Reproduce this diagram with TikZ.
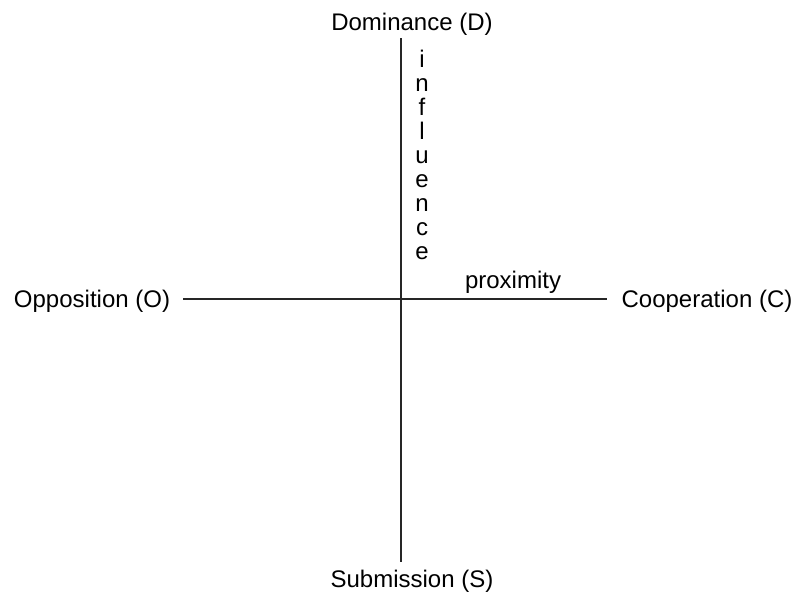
\documentclass[tikz,border=0pt]{standalone}
\usepackage{fontspec}
\setmainfont{Liberation Sans}
\begin{document}
\begin{tikzpicture}[x=1pt,y=-1pt,
  lbl/.style={anchor=base,inner sep=0pt,font=\fontsize{24}{28}\selectfont},
  axis/.style={line width=1.1pt,draw=black!85}]
\useasboundingbox (0,0) rectangle (800,595);
\node[lbl] (D) at (412,30) {Dominance (D)};
\node[lbl] (S) at (412,587) {Submission (S)};
\node[lbl] (O) at (92,307) {Opposition (O)};
\node[lbl] (C) at (707,307) {Cooperation (C)};
\node[lbl] (prox) at (513,288) {proximity};
\foreach \ch [count=\k from 0] in {i,n,f,l,u,e,n,c,e}{
  \node[lbl] (inf\k) at (422,{67+24.1*\k}) {\ch};
}
\coordinate (top) at (401,38);
\coordinate (bot) at (401,562);
\coordinate (left) at (183,299);
\coordinate (right) at (607,299);
\draw[axis] (top) -- (bot);
\draw[axis] (left) -- (right);
\end{tikzpicture}
\end{document}
